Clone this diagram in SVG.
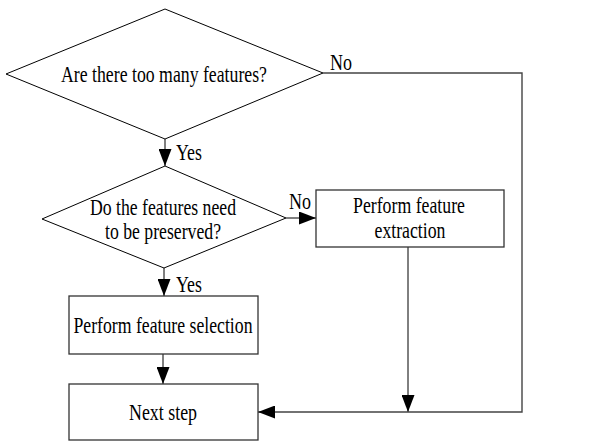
<svg xmlns="http://www.w3.org/2000/svg" width="608" height="441" viewBox="0 0 608 441">
<style>
.shape{fill:#fff;stroke:#000;stroke-width:1}
.box{fill:#fff;stroke:#333;stroke-width:1.3}
.t{font-family:"Liberation Serif","Times New Roman",serif;font-size:23px;fill:#000;text-anchor:middle}
.l{font-family:"Liberation Serif","Times New Roman",serif;font-size:23px;fill:#000}
.c{fill:none;stroke:#000;stroke-width:1}
.cg{fill:none;stroke:#444;stroke-width:1.4}
</style>
<defs>
<marker id="ah" markerUnits="userSpaceOnUse" markerWidth="17" markerHeight="13" refX="17" refY="6.5" orient="auto">
<path d="M0,0 L17,6.5 L0,13 z" fill="#000"/>
</marker>
</defs>
<rect width="608" height="441" fill="#fff"/>
<g id="connectors">
<path class="c" d="M165,139 L165,166" marker-end="url(#ah)"/>
<path class="c" d="M286,218 L316,218" marker-end="url(#ah)"/>
<path class="c" d="M164,268 L164,296" marker-end="url(#ah)"/>
<path class="c" d="M163,354 L163,384" marker-end="url(#ah)"/>
<path class="c" d="M408,247 L408,412" marker-end="url(#ah)"/>
<path class="cg" d="M323,73 L522,73 L522,412 L258,412" marker-end="url(#ah)"/>
<text class="l" x="330" y="70" textLength="22" lengthAdjust="spacingAndGlyphs">No</text>
<text class="l" x="176" y="160" textLength="26" lengthAdjust="spacingAndGlyphs">Yes</text>
<text class="l" x="289" y="209" textLength="22" lengthAdjust="spacingAndGlyphs">No</text>
<text class="l" x="176" y="292" textLength="26" lengthAdjust="spacingAndGlyphs">Yes</text>
</g>
<g id="q1">
<polygon class="shape" points="165,9 323,73 165,139 6,74"/>
<text class="t" x="164" y="82" textLength="206" lengthAdjust="spacingAndGlyphs">Are there too many features?</text>
</g>
<g id="q2">
<polygon class="shape" points="165,166 286,218 164,268 42,219"/>
<text class="t" x="163" y="215" textLength="146" lengthAdjust="spacingAndGlyphs">Do the features need</text>
<text class="t" x="163" y="239" textLength="116" lengthAdjust="spacingAndGlyphs">to be preserved?</text>
</g>
<g id="extraction">
<rect class="box" x="316" y="190" width="188" height="57"/>
<text class="t" x="409" y="213" textLength="112" lengthAdjust="spacingAndGlyphs">Perform feature</text>
<text class="t" x="410" y="238" textLength="71" lengthAdjust="spacingAndGlyphs">extraction</text>
</g>
<g id="selection">
<rect class="box" x="69" y="296" width="189" height="58"/>
<text class="t" x="163" y="333" textLength="179" lengthAdjust="spacingAndGlyphs">Perform feature selection</text>
</g>
<g id="next">
<rect class="box" x="69" y="384" width="189" height="56"/>
<text class="t" x="163" y="420" textLength="68" lengthAdjust="spacingAndGlyphs">Next step</text>
</g>
</svg>
